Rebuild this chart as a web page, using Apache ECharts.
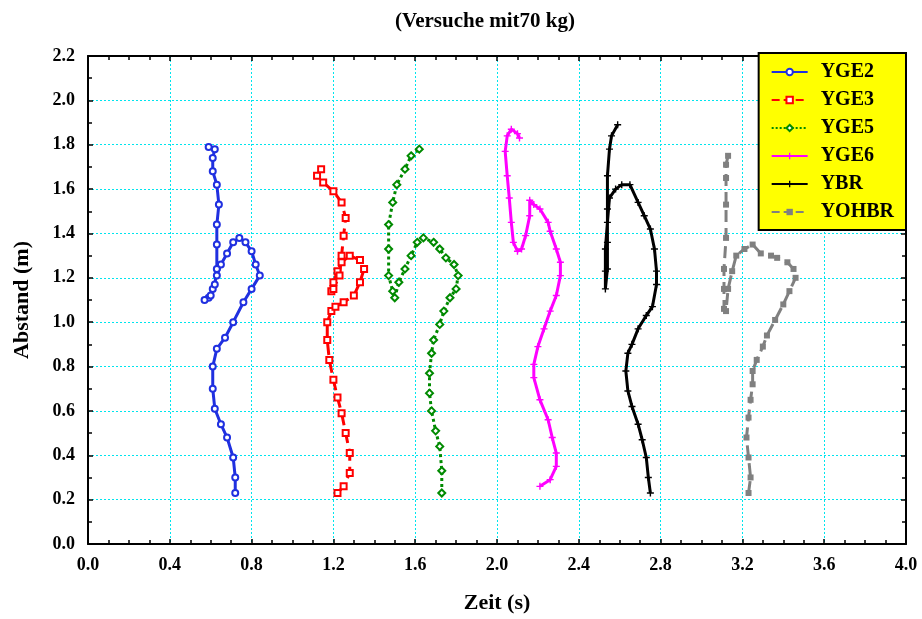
<!DOCTYPE html>
<html>
<head>
<meta charset="utf-8">
<script src="https://cdn.jsdelivr.net/npm/echarts@6/dist/echarts.min.js"></script>
<style>
  html, body { margin: 0; padding: 0; background: #fff; }
  #chart { width: 922px; height: 619px; }
</style>
</head>
<body>
<div id="chart"></div>
<script>
const titleText = '(Versuche mit70 kg)'
const seriesNames = ['YGE2', 'YGE3', 'YGE5', 'YGE6', 'YBR', 'YOHBR']

// [Zeit, Abstand] pairs
const yge2 = [
  [0.72, 0.23], [0.72, 0.30], [0.71, 0.39], [0.68, 0.48], [0.65, 0.54], [0.62, 0.61],
  [0.61, 0.70], [0.61, 0.80], [0.63, 0.88], [0.67, 0.93], [0.71, 1.00], [0.76, 1.09],
  [0.80, 1.15], [0.84, 1.21], [0.82, 1.26], [0.80, 1.32], [0.77, 1.36], [0.74, 1.38],
  [0.71, 1.36], [0.68, 1.31], [0.65, 1.26], [0.63, 1.21], [0.61, 1.15], [0.59, 1.11],
  [0.57, 1.10], [0.60, 1.12], [0.62, 1.17], [0.63, 1.24], [0.63, 1.35], [0.63, 1.44],
  [0.64, 1.53], [0.63, 1.62], [0.61, 1.68], [0.61, 1.74], [0.62, 1.78], [0.59, 1.79]
]
const yge3 = [
  [1.22, 0.23], [1.25, 0.26], [1.28, 0.32], [1.28, 0.41], [1.26, 0.50], [1.24, 0.59],
  [1.22, 0.66], [1.20, 0.74], [1.18, 0.83], [1.17, 0.92], [1.17, 1.00], [1.19, 1.05],
  [1.21, 1.07], [1.25, 1.09], [1.30, 1.12], [1.33, 1.18], [1.35, 1.24], [1.33, 1.28],
  [1.28, 1.30], [1.24, 1.27], [1.22, 1.23], [1.20, 1.18], [1.19, 1.14], [1.20, 1.15],
  [1.23, 1.21], [1.24, 1.30], [1.25, 1.39], [1.26, 1.47], [1.24, 1.54], [1.20, 1.59],
  [1.15, 1.63], [1.12, 1.66], [1.14, 1.69]
]
const yge5 = [
  [1.73, 0.23], [1.73, 0.33], [1.72, 0.44], [1.70, 0.51], [1.68, 0.60], [1.67, 0.68],
  [1.67, 0.77], [1.68, 0.86], [1.69, 0.92], [1.72, 0.99], [1.74, 1.05], [1.77, 1.11],
  [1.80, 1.15], [1.81, 1.21], [1.79, 1.26], [1.75, 1.29], [1.72, 1.33], [1.69, 1.36],
  [1.64, 1.38], [1.61, 1.36], [1.58, 1.30], [1.55, 1.24], [1.52, 1.18], [1.50, 1.11],
  [1.49, 1.14], [1.47, 1.21], [1.47, 1.33], [1.47, 1.44], [1.49, 1.54], [1.51, 1.62],
  [1.55, 1.69], [1.58, 1.75], [1.62, 1.78]
]
const yge6 = [
  [2.21, 0.26], [2.26, 0.29], [2.29, 0.35], [2.29, 0.41], [2.27, 0.48], [2.25, 0.56],
  [2.21, 0.65], [2.18, 0.75], [2.18, 0.81], [2.20, 0.89], [2.23, 0.97], [2.26, 1.05],
  [2.29, 1.12], [2.31, 1.21], [2.31, 1.27], [2.29, 1.33], [2.26, 1.41], [2.25, 1.45],
  [2.21, 1.51], [2.18, 1.53], [2.16, 1.55], [2.16, 1.48], [2.14, 1.39], [2.12, 1.33],
  [2.10, 1.32], [2.08, 1.36], [2.07, 1.45], [2.06, 1.56], [2.05, 1.66], [2.04, 1.77],
  [2.05, 1.84], [2.07, 1.87], [2.10, 1.85], [2.11, 1.83]
]
const ybr = [
  [2.75, 0.23], [2.74, 0.30], [2.73, 0.39], [2.71, 0.47], [2.69, 0.54], [2.66, 0.62],
  [2.64, 0.69], [2.63, 0.78], [2.64, 0.86], [2.66, 0.90], [2.69, 0.97], [2.73, 1.03],
  [2.76, 1.07], [2.78, 1.17], [2.78, 1.23], [2.77, 1.33], [2.75, 1.42], [2.72, 1.48],
  [2.69, 1.54], [2.65, 1.62], [2.61, 1.62], [2.58, 1.60], [2.55, 1.56], [2.54, 1.45],
  [2.53, 1.33], [2.53, 1.23], [2.53, 1.15], [2.54, 1.24], [2.54, 1.36], [2.54, 1.51],
  [2.54, 1.66], [2.55, 1.78], [2.56, 1.84], [2.59, 1.89]
]
const yohbr = [
  [3.23, 0.23], [3.24, 0.30], [3.23, 0.39], [3.22, 0.48], [3.23, 0.57], [3.24, 0.65],
  [3.25, 0.72], [3.25, 0.78], [3.27, 0.83], [3.30, 0.89], [3.32, 0.94], [3.36, 1.01],
  [3.40, 1.08], [3.43, 1.14], [3.46, 1.20], [3.45, 1.24], [3.42, 1.27], [3.37, 1.29],
  [3.34, 1.30], [3.29, 1.31], [3.25, 1.35], [3.21, 1.33], [3.17, 1.30], [3.15, 1.23],
  [3.13, 1.15], [3.12, 1.05], [3.11, 1.06], [3.11, 1.15], [3.11, 1.24], [3.12, 1.38],
  [3.12, 1.53], [3.12, 1.65], [3.12, 1.71], [3.13, 1.75]
]

const plusPath = 'path://M4,0H6V4H10V6H6V10H4V6H0V4H4Z'
const serif = 'Liberation Serif'

function curve (name, data, color, lineType, symbol, size) {
  return {
    name: name,
    type: 'line',
    data: data,
    symbol: symbol,
    symbolSize: size,
    showAllSymbol: true,
    itemStyle: { color: color, borderWidth: 1.5 },
    lineStyle: { color: color, width: 3, type: lineType },
    z: 3
  }
}

// every axis gets its own tick objects, ticks point into the plot
function ticks () {
  return { show: true, inside: true, length: 5, lineStyle: { color: '#000', width: 1.5 } }
}
function minor (n) {
  return { show: true, splitNumber: n, length: 4, lineStyle: { color: '#000', width: 1.5 } }
}
function frameLine () {
  return { show: true, onZero: false, lineStyle: { color: '#000', width: 2 } }
}
function tickLabel (gap) {
  return { fontFamily: serif, fontWeight: 'bold', fontSize: 18, color: '#000', margin: gap,
    formatter: v => v.toFixed(1) }
}

const chart = echarts.init(document.getElementById('chart'))

chart.setOption({
  animation: false,
  backgroundColor: '#fff',
  title: {
    text: titleText,
    left: 390,
    top: 6,
    textStyle: { fontFamily: serif, fontWeight: 'bold', fontSize: 21, color: '#000' }
  },
  legend: {
    orient: 'vertical',
    right: 16,
    top: 53,
    data: seriesNames,
    backgroundColor: '#ffff00',
    borderColor: '#000',
    borderWidth: 2,
    borderRadius: 0,
    padding: [9, 12, 8, 12],
    itemGap: 8,
    itemWidth: 36,
    itemHeight: 8,
    textStyle: { fontFamily: serif, fontWeight: 'bold', fontSize: 20, color: '#000', padding: [0, 0, 0, 8] }
  },
  grid: { left: 88, right: 16, top: 56, bottom: 72 },
  xAxis: [
    {
      type: 'value', min: 0, max: 4, interval: 0.4,
      name: 'Zeit (s)', nameLocation: 'middle', nameGap: 48,
      nameTextStyle: { fontFamily: serif, fontWeight: 'bold', fontSize: 22, color: '#000' },
      axisLine: frameLine(),
      axisTick: ticks(),
      minorTick: minor(4),
      splitLine: { show: true, lineStyle: { color: '#00e5ee', type: [2, 2], width: 1 } },
      axisLabel: tickLabel(12)
    },
    {
      type: 'value', position: 'top', min: 0, max: 4, interval: 0.4,
      axisLine: frameLine(),
      axisTick: ticks(),
      minorTick: minor(4),
      splitLine: { show: false },
      axisLabel: { show: false }
    }
  ],
  yAxis: [
    {
      type: 'value', min: 0, max: 2.2, interval: 0.2,
      name: 'Abstand (m)', nameLocation: 'middle', nameGap: 55,
      nameTextStyle: { fontFamily: serif, fontWeight: 'bold', fontSize: 22, color: '#000' },
      axisLine: frameLine(),
      axisTick: ticks(),
      minorTick: minor(2),
      splitLine: { show: true, lineStyle: { color: '#00e5ee', type: [2, 2], width: 1 } },
      axisLabel: tickLabel(13)
    },
    {
      type: 'value', position: 'right', min: 0, max: 2.2, interval: 0.2,
      axisLine: frameLine(),
      axisTick: ticks(),
      minorTick: minor(2),
      splitLine: { show: false },
      axisLabel: { show: false }
    }
  ],
  series: [
    curve('YGE2', yge2, '#2030e0', 'solid', 'emptyCircle', 6),
    curve('YGE3', yge3, '#ff0000', 'dashed', 'emptyRect', 6),
    curve('YGE5', yge5, '#008a00', 'dotted', 'emptyDiamond', 7),
    curve('YGE6', yge6, '#ff00ff', 'solid', plusPath, 7),
    curve('YBR', ybr, '#000000', 'solid', plusPath, 7),
    curve('YOHBR', yohbr, '#808080', 'dashed', 'rect', 6)
  ]
})
</script>
</body>
</html>
